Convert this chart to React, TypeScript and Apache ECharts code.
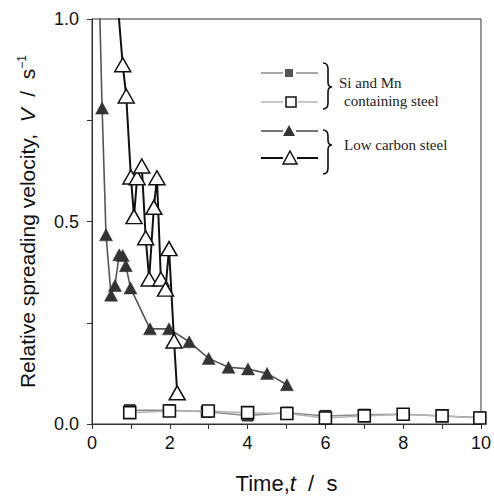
import React, { useEffect, useRef } from "react";
import * as echarts from "echarts";

// Si and Mn containing steel (filled squares)
const fillSqT = [0.97, 1.99, 2.95, 4.0, 5.01, 6.0, 7.0, 8.0, 9.0, 9.97];
const fillSqV = [0.034, 0.034, 0.03, 0.021, 0.028, 0.02, 0.023, 0.024, 0.02, 0.016];
// Si and Mn containing steel (open squares)
const openSqT = [0.97, 1.99, 2.99, 4.0, 5.01, 6.0, 7.0, 8.0, 9.0, 9.97];
const openSqV = [0.028, 0.032, 0.032, 0.028, 0.026, 0.015, 0.02, 0.024, 0.02, 0.015];
// Low carbon steel (filled triangles)
const fillTriT = [0.19, 0.26, 0.36, 0.49, 0.59, 0.7, 0.79, 0.87, 0.99, 1.49, 1.98, 2.5, 3.0, 3.51, 4.01, 4.5, 5.01];
const fillTriV = [1.05, 0.78, 0.467, 0.318, 0.342, 0.418, 0.416, 0.391, 0.336, 0.235, 0.235, 0.203, 0.162, 0.14, 0.136, 0.125, 0.097];
// Low carbon steel (open triangles)
const openTriT = [0.66, 0.79, 0.88, 1.0, 1.08, 1.16, 1.28, 1.38, 1.47, 1.59, 1.67, 1.77, 1.89, 1.98, 2.11, 2.19];
const openTriV = [1.04, 0.887, 0.81, 0.61, 0.512, 0.608, 0.637, 0.46, 0.358, 0.535, 0.608, 0.358, 0.333, 0.433, 0.205, 0.077];

const legendLabels = ["Si and Mn", "containing steel", "Low carbon steel"];

const zip = (a: number[], b: number[]) => a.map((v, i) => [v, b[i]]);

function braceD(x0: number, top: number, tip: number, bottom: number) {
  return `M${x0},${top} Q${x0 + 5},${top} ${x0 + 5},${top + 6} L${x0 + 5},${tip - 5} Q${x0 + 5},${tip} ${x0 + 9},${tip} Q${x0 + 5},${tip} ${x0 + 5},${tip + 5} L${x0 + 5},${bottom - 6} Q${x0 + 5},${bottom} ${x0},${bottom}`;
}

let registered = false;
function registerBraces() {
  if (registered) return;
  registered = true;
  echarts.graphic.registerShape("brace1", echarts.graphic.extendPath(braceD(323, 63, 87, 109), {}));
  echarts.graphic.registerShape("brace2", echarts.graphic.extendPath(braceD(323, 130, 145, 174), {}));
}

export default function App() {
  const ref = useRef<HTMLDivElement>(null);
  useEffect(() => {
    if (!ref.current) return;
    registerBraces();
    const chart = echarts.init(ref.current, undefined, { renderer: "svg" });
    const sans = '"Liberation Sans", Arial, sans-serif';
    const serif = '"Liberation Serif", "Times New Roman", serif';
    const option: any = {
      animation: false,
      backgroundColor: "#fff",
      grid: { left: 92, right: 12, top: 19, bottom: 71, show: true, borderColor: "#333", borderWidth: 1, backgroundColor: "transparent" },
      xAxis: {
        type: "value",
        min: 0,
        max: 10,
        interval: 1,
        name: "Time,{i|t}  /  s",
        nameLocation: "middle",
        nameGap: 48,
        nameTextStyle: { fontSize: 22, fontFamily: sans, color: "#111", rich: { i: { fontSize: 22, fontStyle: "italic", fontFamily: sans, color: "#111" } } },
        axisLine: { show: true, lineStyle: { color: "#333", width: 1 } },
        axisTick: { show: true, inside: false, length: 5, lineStyle: { color: "#333" } },
        axisLabel: { fontSize: 18, fontFamily: sans, color: "#111", margin: 10, formatter: (v: number) => (Math.round(v) % 2 === 0 ? String(v) : "") },
        splitLine: { show: false },
      },
      yAxis: {
        type: "value",
        min: 0,
        max: 1,
        interval: 0.25,
        name: "Relative spreading velocity,  {i|V}  /  s{sup|−1}",
        nameLocation: "middle",
        nameGap: 53,
        nameTextStyle: {
          fontSize: 21,
          fontFamily: sans,
          color: "#111",
          rich: {
            i: { fontSize: 21, fontStyle: "italic", fontFamily: sans, color: "#111" },
            sup: { fontSize: 12, fontFamily: sans, color: "#111", verticalAlign: "top", padding: [0, 0, 11, 0] },
          },
        },
        axisLine: { show: true, lineStyle: { color: "#333", width: 1 } },
        axisTick: { show: true, inside: false, length: 5, lineStyle: { color: "#333" } },
        axisLabel: { fontSize: 18, fontFamily: sans, color: "#111", margin: 13, formatter: (v: number) => (Math.abs(v * 2 - Math.round(v * 2)) < 1e-6 ? v.toFixed(1) : "") },
        splitLine: { show: false },
      },
      series: [
        {
          type: "line",
          data: zip(fillSqT, fillSqV),
          symbol: "rect",
          symbolSize: 11,
          lineStyle: { color: "#8a8a8a", width: 1.5 },
          itemStyle: { color: "#444", borderColor: "#222", borderWidth: 1 },
          clip: true,
          z: 2,
        },
        {
          type: "line",
          data: zip(openSqT, openSqV),
          symbol: "rect",
          symbolSize: 12,
          lineStyle: { color: "#b5b5b5", width: 1.5 },
          itemStyle: { color: "#fff", borderColor: "#111", borderWidth: 1.6 },
          clip: true,
          z: 3,
        },
        {
          type: "line",
          data: zip(fillTriT, fillTriV),
          symbol: "triangle",
          symbolSize: [13, 12],
          lineStyle: { color: "#555", width: 1.6 },
          itemStyle: { color: "#333", borderColor: "#333", borderWidth: 0.5 },
          clip: true,
          z: 4,
        },
        {
          type: "line",
          data: zip(openTriT, openTriV),
          symbol: "triangle",
          symbolSize: [16, 14],
          lineStyle: { color: "#111", width: 2 },
          itemStyle: { color: "#fff", borderColor: "#111", borderWidth: 1.5 },
          clip: true,
          z: 5,
        },
      ],
      graphic: [
        // row 1: filled square
        { type: "line", shape: { x1: 261, y1: 73, x2: 283, y2: 73 }, style: { stroke: "#8a8a8a", lineWidth: 1.5 } },
        { type: "line", shape: { x1: 296, y1: 73, x2: 318, y2: 73 }, style: { stroke: "#8a8a8a", lineWidth: 1.5 } },
        { type: "rect", shape: { x: 285, y: 69, width: 8, height: 8 }, style: { fill: "#555" } },
        // row 2: open square
        { type: "line", shape: { x1: 261, y1: 102, x2: 283, y2: 102 }, style: { stroke: "#b5b5b5", lineWidth: 1.5 } },
        { type: "line", shape: { x1: 298, y1: 102, x2: 318, y2: 102 }, style: { stroke: "#b5b5b5", lineWidth: 1.5 } },
        { type: "rect", shape: { x: 286, y: 97, width: 10, height: 10 }, style: { fill: "#fff", stroke: "#111", lineWidth: 1.5 } },
        // row 3: filled triangle
        { type: "line", shape: { x1: 261, y1: 131, x2: 283, y2: 131 }, style: { stroke: "#555", lineWidth: 1.6 } },
        { type: "line", shape: { x1: 296, y1: 131, x2: 318, y2: 131 }, style: { stroke: "#555", lineWidth: 1.6 } },
        { type: "polygon", shape: { points: [[289, 125], [283, 136], [295, 136]] }, style: { fill: "#333" } },
        // row 4: open triangle
        { type: "line", shape: { x1: 261, y1: 158, x2: 283, y2: 158 }, style: { stroke: "#111", lineWidth: 2 } },
        { type: "line", shape: { x1: 297, y1: 158, x2: 318, y2: 158 }, style: { stroke: "#111", lineWidth: 2 } },
        { type: "polygon", shape: { points: [[290, 151], [283, 164], [297, 164]] }, style: { fill: "#fff", stroke: "#111", lineWidth: 1.5 } },
        // braces
        { type: "brace1", x: 0, y: 0, style: { stroke: "#111", fill: "none", lineWidth: 1.6 } },
        { type: "brace2", x: 0, y: 0, style: { stroke: "#111", fill: "none", lineWidth: 1.6 } },
        // labels
        { type: "text", x: 339, y: 83, style: { text: legendLabels[0], fontSize: 15, fontFamily: serif, fill: "#222", verticalAlign: "middle", align: "left" } },
        { type: "text", x: 344, y: 101, style: { text: legendLabels[1], fontSize: 15, fontFamily: serif, fill: "#222", verticalAlign: "middle", align: "left" } },
        { type: "text", x: 344, y: 145, style: { text: legendLabels[2], fontSize: 15, fontFamily: serif, fill: "#222", verticalAlign: "middle", align: "left" } },
      ],
    };
    chart.setOption(option);
    return () => chart.dispose();
  }, []);
  return <div ref={ref} style={{ position: "absolute", left: 0, top: 0, width: 494, height: 499 }} />;
}
